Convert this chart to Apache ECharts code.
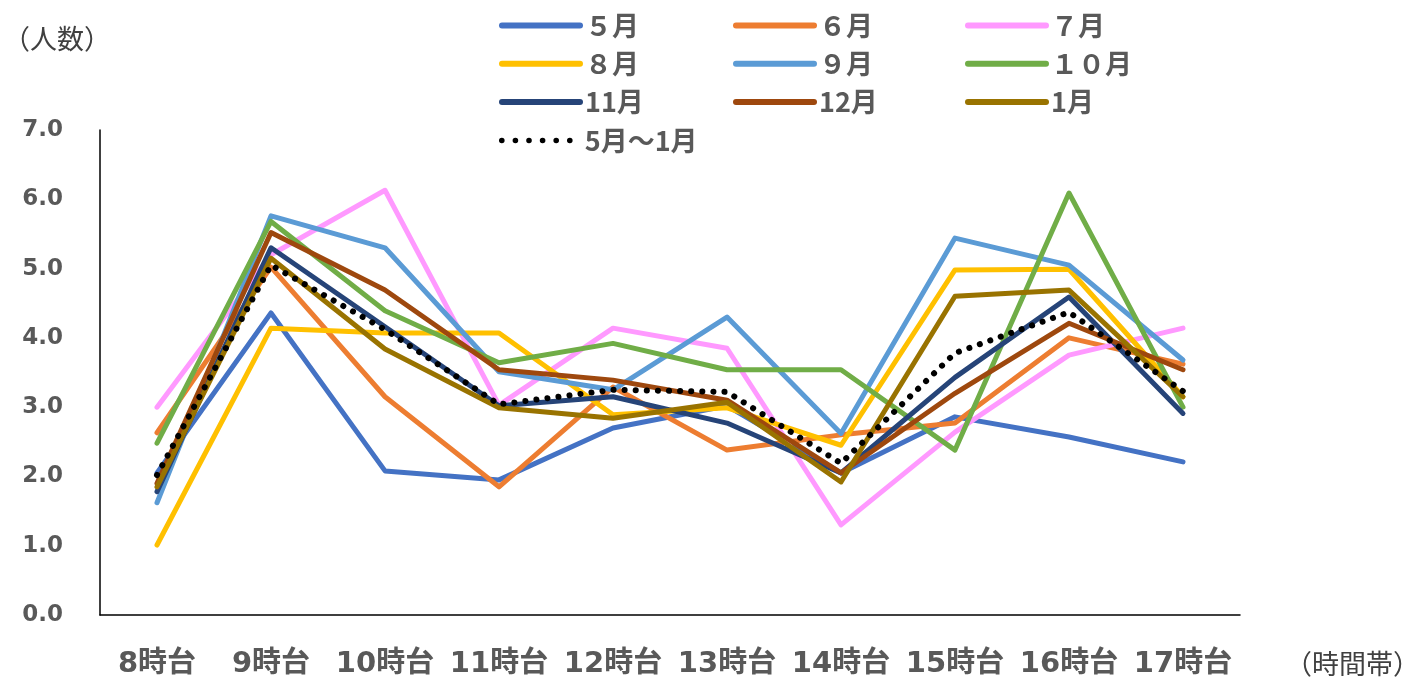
<!DOCTYPE html>
<html><head><meta charset="utf-8">
<script src="https://cdn.jsdelivr.net/npm/echarts@6/dist/echarts.min.js"></script>
<style>html,body{margin:0;padding:0;background:#fff}#c{width:1409px;height:679px}</style>
</head><body><div id="c"></div>
<script>
const categories = ['8時台','9時台','10時台','11時台','12時台','13時台','14時台','15時台','16時台','17時台'];
const seriesNames = ['５月','６月','７月','８月','９月','１０月','11月','12月','1月','5月～1月'];
const may = [2.05, 4.36, 2.08, 1.95, 2.70, 3.02, 2.05, 2.86, 2.57, 2.21];
const jun = [2.63, 5.02, 3.15, 1.85, 3.29, 2.38, 2.60, 2.77, 4.00, 3.62];
const jul = [3.00, 5.20, 6.13, 3.03, 4.14, 3.85, 1.30, 2.64, 3.75, 4.14];
const aug = [1.01, 4.14, 4.07, 4.07, 2.89, 2.99, 2.45, 4.98, 4.99, 3.15];
const sep = [1.62, 5.76, 5.30, 3.51, 3.25, 4.30, 2.62, 5.44, 5.05, 3.68];
const oct = [2.48, 5.68, 4.39, 3.64, 3.92, 3.54, 3.54, 2.38, 6.09, 3.00];
const nov = [1.78, 5.30, 4.16, 3.02, 3.15, 2.77, 2.05, 3.43, 4.59, 2.91];
const dec = [1.90, 5.52, 4.69, 3.54, 3.39, 3.10, 2.05, 3.20, 4.21, 3.54];
const jan = [1.85, 5.15, 3.84, 2.99, 2.84, 3.07, 1.92, 4.60, 4.69, 3.15];
const avg = [2.02, 5.05, 4.12, 3.04, 3.25, 3.22, 2.19, 3.78, 4.37, 3.23];
const yTicks = [0, 1, 2, 3, 4, 5, 6, 7];

const values = [may, jun, jul, aug, sep, oct, nov, dec, jan, avg];
const colors = ['#4472C4','#ED7D31','#FF99FF','#FFC000','#5B9BD5','#70AD47','#264478','#9E480E','#997300','#000000'];
const CJK = '"Noto Sans CJK JP", "Noto Sans", sans-serif';
const MIX = '"DejaVu Sans", "Noto Sans CJK JP", sans-serif';

const series = values.map((d, i) => {
  const dotted = i === 9;
  return {
    name: seriesNames[i], type: 'line', data: d, symbol: 'none', z: 2 + i,
    lineStyle: dotted
      ? { color: colors[i], width: 6, type: [0.1, 11], cap: 'round' }
      : { color: colors[i], width: 5, cap: 'round', join: 'round' },
    itemStyle: { color: colors[i] },
    animation: false
  };
});

const legends = seriesNames.map((n, i) => ({
  data: [n],
  left: [499, 733, 965][i % 3],
  top: 12 + Math.floor(i / 3) * 38.3,
  itemWidth: 78, itemHeight: 26, itemGap: 0,
  padding: 0,
  itemStyle: { opacity: 0 },
  lineStyle: i === 9 ? { width: 5.5, type: [0.1, 13.5], cap: 'round' } : { width: 6, cap: 'round' },
  textStyle: { fontFamily: CJK, fontSize: 27, fontWeight: 'bold', color: '#595959' },
  selectedMode: false
}));

const chart = echarts.init(document.getElementById('c'), null, { renderer: 'canvas' });
chart.setOption({
  backgroundColor: '#fff',
  animation: false,
  legend: legends,
  grid: { left: 100, right: 169, top: 130, bottom: 64 },
  xAxis: {
    type: 'category', data: categories, boundaryGap: true,
    axisLine: { lineStyle: { color: '#000', width: 1.5 } },
    axisTick: { show: false },
    axisLabel: { fontFamily: MIX, fontSize: 29, fontWeight: 'bold', color: '#595959', margin: 35, interval: 0 }
  },
  yAxis: {
    type: 'value', min: yTicks[0], max: yTicks[yTicks.length - 1], interval: 1,
    axisLine: { show: true, lineStyle: { color: '#000', width: 1.5 } },
    axisTick: { show: false },
    splitLine: { show: false },
    axisLabel: { fontFamily: '"DejaVu Sans", sans-serif', fontSize: 23, fontWeight: 'bold', color: '#595959', margin: 37,
      formatter: v => v.toFixed(1) }
  },
  graphic: [
    { type: 'text', left: 3, top: 25, style: { text: '（人数）', font: '27px ' + CJK, fill: '#404040' } },
    { type: 'text', left: 1285, top: 650, style: { text: '（時間帯）', font: '27px ' + CJK, fill: '#404040' } }
  ],
  series: series
});
</script></body></html>
